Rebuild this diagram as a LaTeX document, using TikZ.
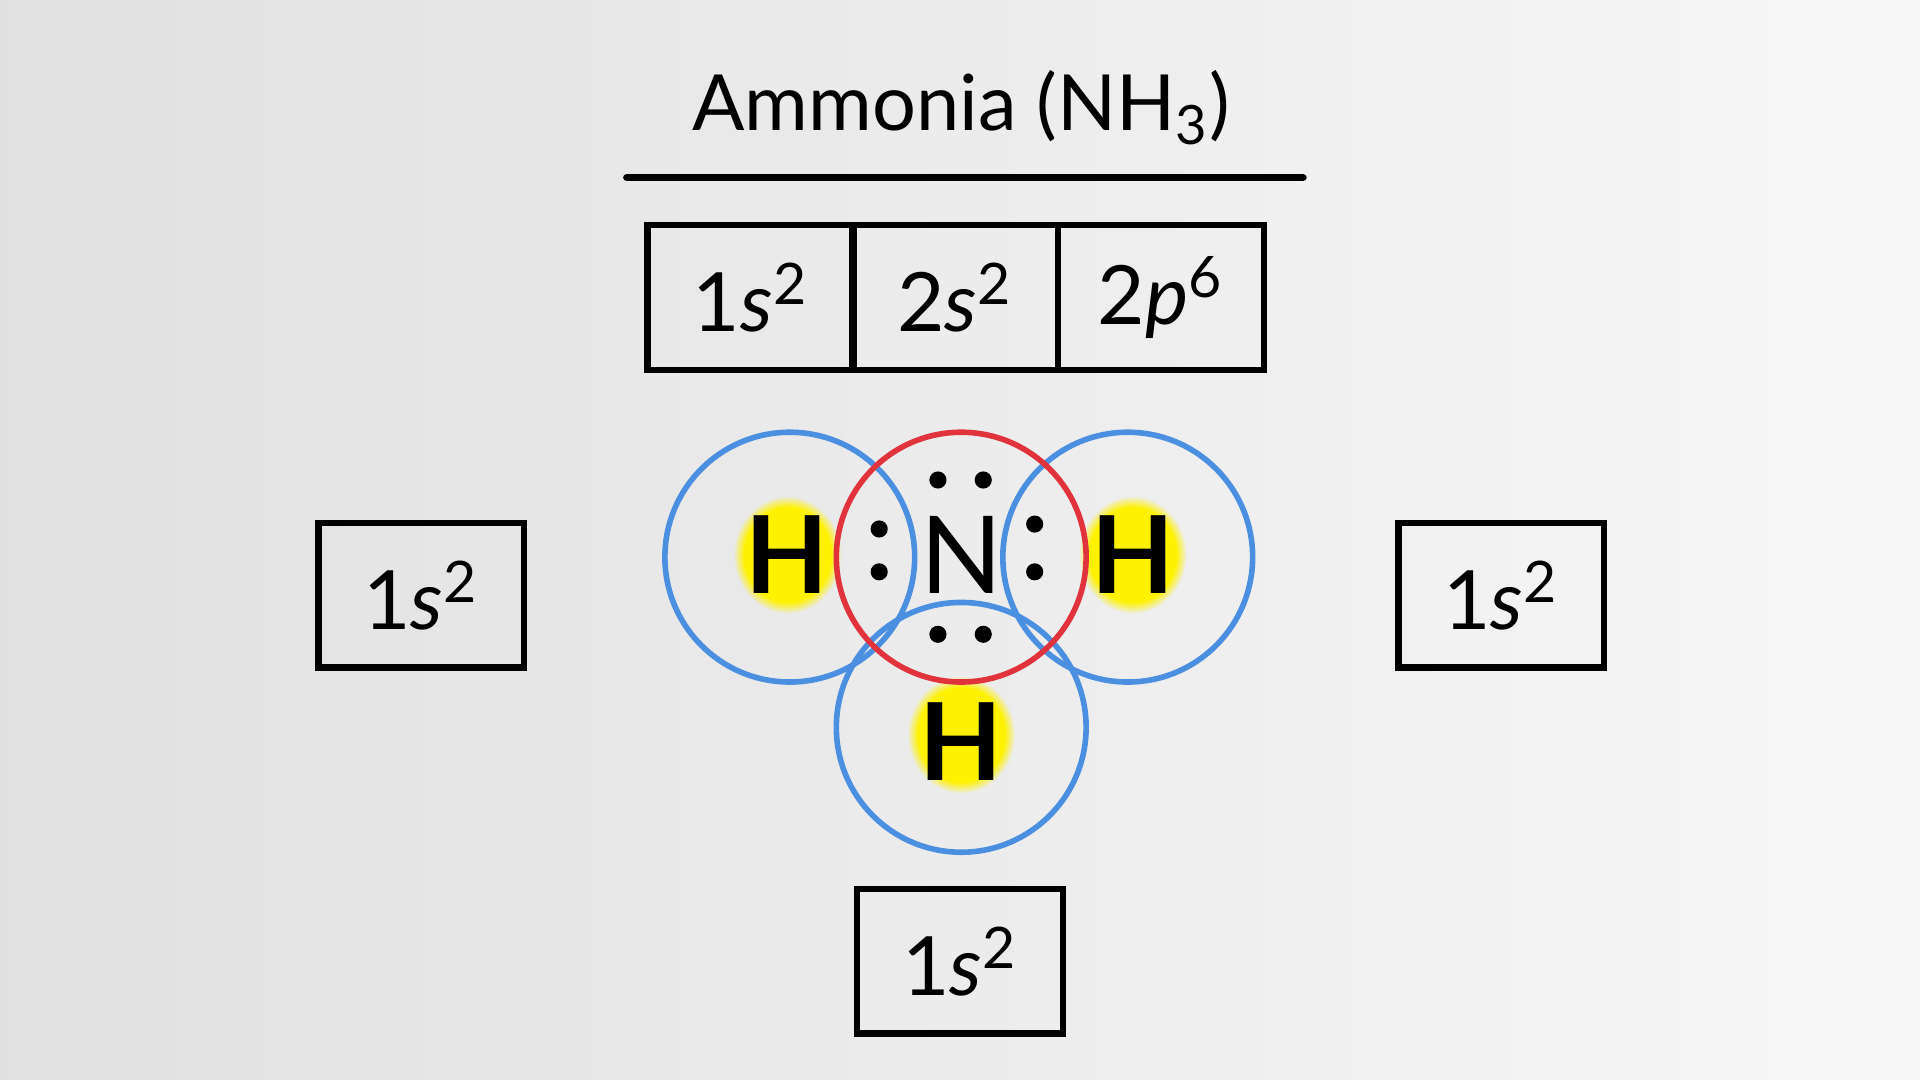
\documentclass[tikz,border=0pt]{standalone}
\usepackage{fontspec}
\setmainfont{Lato}
\usetikzlibrary{fadings}

\definecolor{hblue}{HTML}{4A8FE0}
\definecolor{nred}{HTML}{E0333C}
\tikzset{
  orb/.style={line width=1.3pt},
  cfgbox/.style={draw=black, line width=1.5pt, minimum width=1.68cm, minimum height=1.18cm, font=\fontsize{19}{22}\selectfont},
  atom/.style={font=\fontsize{25}{28}\selectfont\bfseries},
  glow/.style={fill=yellow, path fading=circle with fuzzy edge 20 percent}
}
\newcommand{\cfg}[2]{#1\textit{#2}\textsuperscript{2}}

\begin{document}
\begin{tikzpicture}[x=0.01cm, y=-0.01cm]
\shade[left color=gray!24, right color=gray!6] (0,0) rectangle (1568,882);
\useasboundingbox (0,0) rectangle (1568,882);

% title
\node (title) at (785,88) {\fontsize{18}{21}\selectfont Ammonia (NH\textsubscript{3})};
\draw[line width=1.8pt, line cap=round] (512,145) -- (1064,145);

% configuration of N
\node[cfgbox] (b1) at (613,243) {\cfg{1}{s}};
\node[cfgbox] (b2) at (780,243) {\cfg{2}{s}};
\node[cfgbox] (b3) at (948,243) {2\textit{p}\textsuperscript{6}};

% configuration of H
\node[cfgbox] (hl) at (344,486) {\cfg{1}{s}};
\node[cfgbox] (hr) at (1226,486) {\cfg{1}{s}};
\node[cfgbox] (hb) at (784,785) {\cfg{1}{s}};

% glow behind H
\fill[glow] (643,453) ellipse (44 and 48);
\fill[glow] (925,453) ellipse (44 and 48);
\fill[glow] (785,600) ellipse (44 and 48);

% orbitals
\draw[orb, hblue] (645,455) circle (102);
\draw[orb, hblue] (921,455) circle (102);
\draw[orb, hblue] (785,594) circle (102);
\draw[orb, nred] (785,455) circle (102);

% atoms
\node[atom] (H1) at (643,453) {H};
\node[atom] (H2) at (925,453) {H};
\node[atom] (H3) at (785,606) {H};
\node[font=\fontsize{25}{28}\selectfont] (N) at (785,453) {N};

% electrons
\foreach \x/\y in {766/392, 803/392, 718/432, 718/467, 845/428, 845/467, 766/518, 803/518}
  \fill (\x,\y) circle (7);
\end{tikzpicture}
\end{document}
